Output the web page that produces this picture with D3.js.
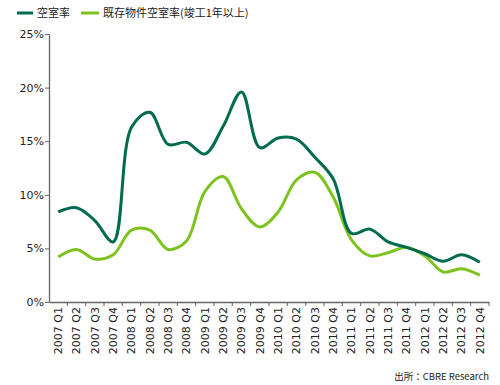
<!DOCTYPE html>
<html><head><meta charset="utf-8">
<script src="https://cdn.jsdelivr.net/npm/d3@7/dist/d3.min.js"></script>
<style>
body{margin:0;background:#fff;}
svg{display:block;}
</style></head>
<body><svg id="c" width="500" height="385"></svg>
<script>
const categories = ["2007 Q1","2007 Q2","2007 Q3","2007 Q4","2008 Q1","2008 Q2","2008 Q3","2008 Q4","2009 Q1","2009 Q2","2009 Q3","2009 Q4","2010 Q1","2010 Q2","2010 Q3","2010 Q4","2011 Q1","2011 Q2","2011 Q3","2011 Q4","2012 Q1","2012 Q2","2012 Q3","2012 Q4"];
const vacancy = [8.4,8.8,7.6,5.6,16.3,17.7,14.7,14.9,13.8,16.4,19.6,14.4,15.3,15.2,13.5,11.5,6.4,6.8,5.6,5.1,4.5,3.8,4.4,3.7];
const existingVacancy = [4.2,4.9,4.0,4.4,6.7,6.7,4.9,5.7,10.3,11.7,8.7,7.0,8.4,11.4,12.1,9.8,5.8,4.3,4.6,5.1,4.3,2.8,3.1,2.5];
const yTicks = [0,5,10,15,20,25];
const seriesNames = ["空室率","既存物件空室率(竣工1年以上)"];
const sourceText = "出所：CBRE Research";

const colors = ["#006b4f","#7dc31f"];
const svg = d3.select("#c");
const font = "'DejaVu Sans', sans-serif";
const cjk = "'Noto Sans CJK JP', sans-serif";

const x = d3.scaleBand().domain(categories).range([49,489]).padding(0);
const y = d3.scaleLinear().domain([0,25]).range([302,34]);

// Y axis
const yAxis = svg.append("g").attr("transform","translate(49,0)")
  .call(d3.axisLeft(y).tickValues(yTicks).tickFormat(d=>d+"%").tickSize(4).tickSizeOuter(0));
yAxis.select(".domain").attr("stroke","#666").attr("stroke-width",1.3);
yAxis.selectAll(".tick line").attr("stroke","#666");
yAxis.selectAll(".tick text").attr("font-family",font).attr("font-size",11).attr("fill","#222").attr("x",-5);

// X axis
const xAxis = svg.append("g").attr("transform","translate(0,302)")
  .call(d3.axisBottom(x).tickSize(0).tickSizeOuter(0));
xAxis.select(".domain").attr("stroke","#666").attr("stroke-width",1.3);
xAxis.selectAll(".tick text")
  .attr("font-family",font).attr("font-size",11).attr("fill","#222")
  .attr("text-anchor","end").attr("dy","0.35em")
  .attr("transform","translate(0,5) rotate(-90)").attr("x",0).attr("y",0);
// boundary ticks
const bounds = categories.map(c=>x(c)).concat([x(categories[categories.length-1])+x.bandwidth()]);
svg.append("g").selectAll("line").data(bounds.slice(1)).join("line")
  .attr("x1",d=>d).attr("x2",d=>d).attr("y1",302).attr("y2",306)
  .attr("stroke","#666").attr("stroke-width",1);

// Lines
const line = d3.line().x((d,i)=>x(categories[i])+x.bandwidth()/2).y(d=>y(d)).curve(d3.curveCatmullRom.alpha(0.5));
[existingVacancy, vacancy].forEach((s,k)=>{
  svg.append("path").datum(s).attr("d",line).attr("fill","none")
    .attr("stroke", k===0?colors[1]:colors[0]).attr("stroke-width",3).attr("stroke-linejoin","round");
});
// redraw dark on top? order: light first, dark on top
// Legend
const leg = [{x1:17,x2:33,tx:37},{x1:81,x2:99,tx:103}];
leg.forEach((l,i)=>{
  svg.append("line").attr("x1",l.x1).attr("x2",l.x2).attr("y1",13).attr("y2",13)
    .attr("stroke",colors[i]).attr("stroke-width",3);
  svg.append("text").attr("x",l.tx).attr("y",17).attr("font-family",cjk).attr("font-size",11)
    .attr("fill","#222").text(seriesNames[i]);
});
svg.append("text").attr("x",489).attr("y",380).attr("text-anchor","end")
  .attr("font-family",cjk).attr("font-size",9.5).attr("fill","#222").text(sourceText);
</script></body></html>
